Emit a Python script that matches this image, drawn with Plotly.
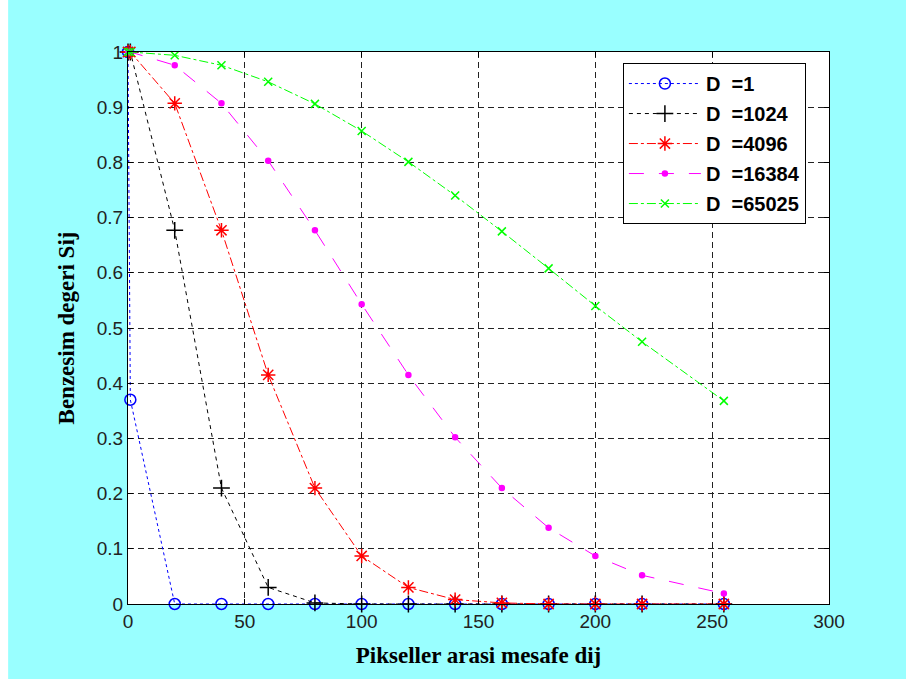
import plotly.graph_objects as go

# distance values (pixels)
x_vals = [0, 1, 20, 40, 60, 80, 100, 120, 140, 160, 180, 200, 220, 255]

# similarity values
s_d1 = [1.0, 0.37, 0, 0, 0, 0, 0, 0, 0, 0, 0, 0, 0, 0]
s_d1024 = [1.0, 1.0, 0.677, 0.21, 0.03, 0.002, 0, 0, 0, 0, 0, 0, 0, 0]
s_d4096 = [1.0, 1.0, 0.907, 0.677, 0.415, 0.21, 0.087, 0.03, 0.008, 0.002, 0, 0, 0, 0]
s_d16384 = [1.0, 1.0, 0.976, 0.907, 0.803, 0.677, 0.543, 0.415, 0.302, 0.21, 0.138, 0.087, 0.052, 0.019]
s_d65025 = [1.0, 1.0, 0.994, 0.976, 0.946, 0.906, 0.857, 0.801, 0.74, 0.675, 0.608, 0.54, 0.475, 0.368]

names = ["D\u00a0\u00a0=1", "D\u00a0\u00a0=1024", "D\u00a0\u00a0=4096", "D\u00a0\u00a0=16384", "D\u00a0\u00a0=65025"]
series = [s_d1, s_d1024, s_d4096, s_d16384, s_d65025]
colors = ["#0000FF", "#000000", "#FF0000", "#FF00FF", "#00FF00"]
dashes = ["3px,3px", "4px,4px", "dashdot", "longdash", "dashdot"]
symbols = ["circle-open", "cross-thin-open", "asterisk-open", "circle", "x-thin-open"]
sizes = [11, 12, 12, 5, 8]

fig = go.Figure()
for i, (nm, ys) in enumerate(zip(names, series)):
    fig.add_trace(go.Scatter(
        x=x_vals, y=ys, name=nm, mode="lines+markers",
        legendgroup=f"g{i}",
        line=dict(color=colors[i], dash=dashes[i], width=1),
        marker=dict(symbol=symbols[i], size=sizes[i], color=colors[i],
                    line=dict(color=colors[i], width=1.5)),
        cliponaxis=False,
    ))

axis_common = dict(
    showline=True, linecolor="black", linewidth=1, mirror="ticks",
    ticks="inside", ticklen=5, tickcolor="black",
    showgrid=True, gridcolor="#222222", griddash="6px,4px", gridwidth=1,
    zeroline=False,
    tickfont=dict(family="Liberation Sans, Arial", size=19, color="#222222"),
)

fig.update_layout(
    width=906, height=682,
    margin=dict(l=128, r=77, t=52, b=78),
    paper_bgcolor="#99FFFF", plot_bgcolor="white",
    xaxis=dict(range=[0, 300], dtick=50, tick0=0,
               title=dict(text="Pikseller arasi mesafe dij", standoff=16,
                          font=dict(family="Liberation Serif, Times New Roman", size=23,
                                    color="black", weight="bold")),
               **axis_common),
    yaxis=dict(range=[0, 1], dtick=0.1, tick0=0,
               title=dict(text="Benzesim degeri Sij", standoff=15,
                          font=dict(family="Liberation Serif, Times New Roman", size=23,
                                    color="black", weight="bold")),
               **axis_common),
    legend=dict(x=0.706, y=0.98, xanchor="left", yanchor="top",
                bgcolor="white", bordercolor="black", borderwidth=1,
                font=dict(family="Liberation Sans, Arial", size=20, color="black", weight="bold"),
                tracegroupgap=1, itemwidth=72),
    shapes=[
        dict(type="rect", xref="paper", yref="paper", x0=-0.2, x1=-0.171, y0=-0.2, y1=1.2,
             fillcolor="white", line=dict(width=0), layer="below"),
        dict(type="rect", xref="paper", yref="paper", x0=-0.2, x1=1.2, y0=-0.2, y1=-0.1359,
             fillcolor="white", line=dict(width=0), layer="below"),
    ],
    showlegend=True,
    font=dict(family="Liberation Sans, Arial"),
)

fig.write_html("out.html", config={"displayModeBar": False},
               post_script="document.body.style.margin='0';")
